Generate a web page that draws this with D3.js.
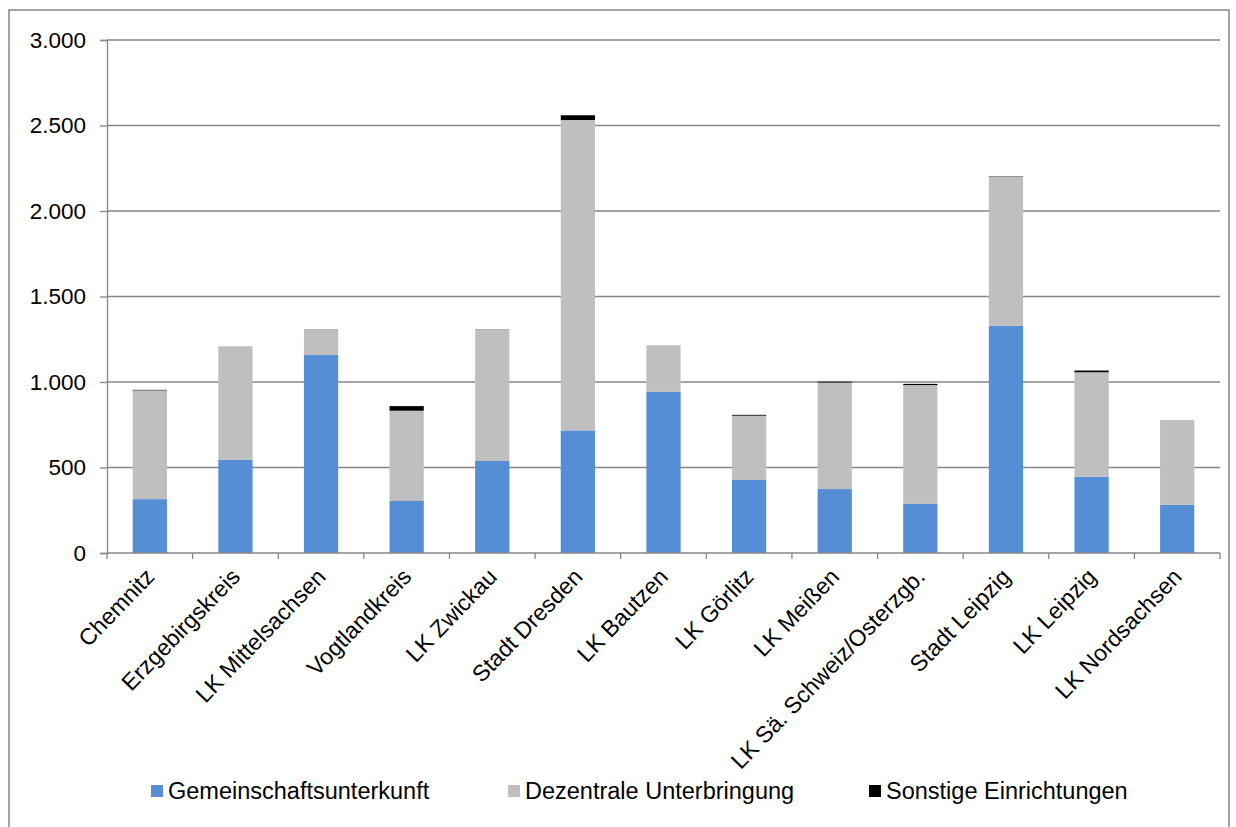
<!DOCTYPE html>
<html>
<head>
<meta charset="utf-8">
<script src="https://cdn.jsdelivr.net/npm/d3@7"></script>
<style>
    body { margin: 0; background: #fff; }
    text { font-family: Arial, "Liberation Sans", sans-serif; fill: #000; }
</style>
</head>
<body>
<svg id="chart" width="1236" height="827"></svg>
<script>
    // Data
    const categories = ['Chemnitz', 'Erzgebirgskreis', 'LK Mittelsachsen', 'Vogtlandkreis', 'LK Zwickau',
        'Stadt Dresden', 'LK Bautzen', 'LK Görlitz', 'LK Meißen', 'LK Sä. Schweiz/Osterzgb.',
        'Stadt Leipzig', 'LK Leipzig', 'LK Nordsachsen'];
    const gemeinschaft = [315, 545, 1158, 304, 538, 717, 942, 427, 374, 287, 1329, 446, 281];
    const dezentral = [636, 660, 152, 528, 770, 1815, 273, 376, 623, 695, 873, 611, 497];
    const sonstige = [3, 1, 0, 27, 1, 28, 0, 5, 5, 7, 2, 10, 0];
    const seriesNames = ['Gemeinschaftsunterkunft', 'Dezentrale Unterbringung', 'Sonstige Einrichtungen'];
    const seriesColors = ['#558ED5', '#BFBFBF', '#000000'];
    const yTicks = [0, 500, 1000, 1500, 2000, 2500, 3000];

    const FONT_SIZE_Y = '22.5px';
    const FONT_SIZE_X = '23px';
    const FONT_SIZE_LEGEND = '23.5px';

    const svg = d3.select('#chart');
    const margin = { left: 107, top: 40, right: 1220, bottom: 553 };

    // Frame
    svg.append('rect')
        .attr('x', 9).attr('y', 10)
        .attr('width', 1220).attr('height', 830)
        .attr('fill', '#fff')
        .attr('stroke', '#868686').attr('stroke-width', 1.5);

    const x = d3.scaleBand()
        .domain(categories)
        .range([margin.left, margin.right])
        .paddingInner(0.6).paddingOuter(0.3);
    const xOuter = d3.scaleBand().domain(categories).range([margin.left, margin.right]);
    const y = d3.scaleLinear().domain([0, 3000]).range([margin.bottom, margin.top]);

    // Grid lines
    svg.append('g')
        .selectAll('line')
        .data(yTicks.slice(1))
        .enter().append('line')
            .attr('x1', margin.left).attr('x2', margin.right)
            .attr('y1', (d) => y(d)).attr('y2', (d) => y(d))
            .attr('stroke', '#868686').attr('stroke-width', 1.3);

    // Y axis
    const yAxis = svg.append('g')
        .attr('transform', 'translate(' + margin.left + ',0)')
        .call(d3.axisLeft(y).tickValues(yTicks).tickSize(7).tickPadding(14)
            .tickFormat((d) => d3.format(',')(d).replace(/,/g, '.')));
    yAxis.select('.domain').attr('stroke', '#868686').attr('stroke-width', 1.3);
    yAxis.selectAll('.tick line').attr('stroke', '#868686').attr('stroke-width', 1.3);
    yAxis.selectAll('.tick text').style('font-size', FONT_SIZE_Y).attr('fill', '#000');

    // Stacked bars
    const rows = categories.map((c, i) => ({ cat: c, g: gemeinschaft[i], d: dezentral[i], s: sonstige[i] }));
    const stack = d3.stack().keys(['g', 'd', 's'])(rows);
    svg.append('g')
        .selectAll('g')
        .data(stack)
        .enter().append('g')
            .attr('fill', (s, i) => seriesColors[i])
            .selectAll('rect')
            .data((s) => s)
            .enter().append('rect')
                .attr('x', (d) => x(d.data.cat))
                .attr('width', x.bandwidth())
                .attr('y', (d) => y(d[1]))
                .attr('height', (d) => y(d[0]) - y(d[1]));

    // X axis
    const xAxisG = svg.append('g');
    xAxisG.append('line')
        .attr('x1', margin.left).attr('x2', margin.right)
        .attr('y1', margin.bottom).attr('y2', margin.bottom)
        .attr('stroke', '#868686').attr('stroke-width', 1.3);
    xAxisG.selectAll('.xtick')
        .data(categories.concat(['end']))
        .enter().append('line')
            .attr('class', 'xtick')
            .attr('x1', (d, i) => margin.left + i * xOuter.step())
            .attr('x2', (d, i) => margin.left + i * xOuter.step())
            .attr('y1', margin.bottom).attr('y2', margin.bottom + 6)
            .attr('stroke', '#868686').attr('stroke-width', 1.3);
    xAxisG.selectAll('text')
        .data(categories)
        .enter().append('text')
            .attr('transform', (d) => 'translate(' + (x(d) + x.bandwidth() / 2 + 6) + ',' + (margin.bottom + 25) + ') rotate(-46)')
            .attr('text-anchor', 'end')
            .style('font-size', FONT_SIZE_X)
            .text((d) => d);

    // Legend
    const legendX = [151, 508, 869];
    const legend = svg.append('g')
        .selectAll('g')
        .data(seriesNames)
        .enter().append('g')
            .attr('transform', (d, i) => 'translate(' + legendX[i] + ',791)');
    legend.append('rect')
        .attr('x', 0).attr('y', -6)
        .attr('width', 12).attr('height', 12)
        .attr('fill', (d, i) => seriesColors[i]);
    legend.append('text')
        .attr('x', 17).attr('dy', '0.35em')
        .style('font-size', FONT_SIZE_LEGEND)
        .text((d) => d);
</script>
</body>
</html>
